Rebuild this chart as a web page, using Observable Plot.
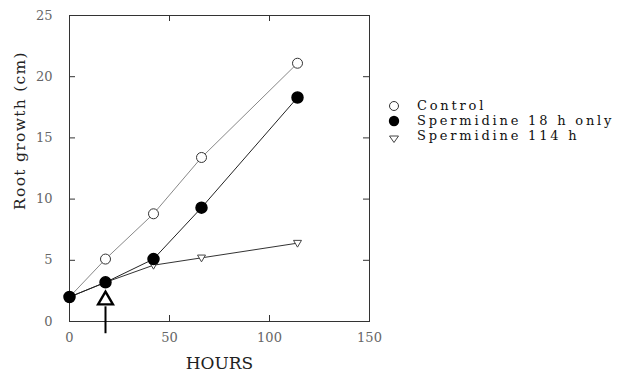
<!DOCTYPE html>
<html>
<head>
<meta charset="utf-8">
<script src="https://cdn.jsdelivr.net/npm/d3@7"></script>
<script src="https://cdn.jsdelivr.net/npm/@observablehq/plot@0.6"></script>
<style>
  html, body { margin: 0; padding: 0; background: #fff; }
  #wrap { position: relative; width: 624px; height: 374px; }
  #legend { position: absolute; left: 386px; top: 98px; font-family: "DejaVu Serif", serif; font-size: 13px; letter-spacing: 2.8px; color: #111; }
  #legend .row { display: flex; align-items: center; height: 15px; line-height: 15px; }
  #legend svg { width: 16px; height: 14px; margin-right: 15px; overflow: visible; flex: none; }
  #legend span { white-space: nowrap; }
</style>
</head>
<body>
<div id="wrap"></div>
<script>
// ---- data ----
const hours = [0, 18, 42, 66, 114];
const control = [2.0, 5.1, 8.8, 13.4, 21.1];
const sperm18 = [2.0, 3.2, 5.1, 9.3, 18.3];
const sperm114 = [2.0, 3.2, 4.6, 5.2, 6.4];
const seriesNames = ["Control", "Spermidine 18 h only", "Spermidine 114 h"];
const xTicks = [0, 50, 100, 150];
const yTicks = [0, 5, 10, 15, 20, 25];
const xInnerTicks = [50, 100];
const yInnerTicks = [5, 10, 15, 20];
const arrowHour = [18];
const arrowSpan = [-1.0, 1.2];   // shaft from/to (cm units)
const arrowHeadAt = [1.75];

const rows = (name, ys) => hours.map((h, i) => ({series: name, x: h, y: ys[i]}));
const dControl = rows(seriesNames[0], control);
const d18 = rows(seriesNames[1], sperm18);
const d114 = rows(seriesNames[2], sperm114);

const triDown = {
  draw(ctx, size) {
    const s = Math.sqrt(size);
    ctx.moveTo(-s / 2, -s * 0.35);
    ctx.lineTo(s / 2, -s * 0.35);
    ctx.lineTo(0, s * 0.5);
    ctx.closePath();
  }
};

const W = 624, H = 374;
const mL = 69, mR = 255, mT = 15, mB = 53;
const innerW = W - mL - mR, innerH = H - mT - mB;
const serif = "DejaVu Serif";
const T = 6; // inward tick length

const chart = Plot.plot({
  width: W,
  height: H,
  marginLeft: mL,
  marginRight: mR,
  marginTop: mT,
  marginBottom: mB,
  style: {fontFamily: serif, fontSize: "13px", color: "#666", background: "white"},
  x: {domain: [0, 150]},
  y: {domain: [0, 25]},
  marks: [
    // tick labels
    Plot.axisX({anchor: "bottom", ticks: xTicks, tickSize: 0, tickPadding: 11, label: null}),
    Plot.axisY({anchor: "left", ticks: yTicks, tickSize: 0, tickPadding: 17, label: null}),
    // inward ticks on all four sides
    Plot.tickX(xInnerTicks, {x: d => d, insetTop: innerH - T, stroke: "#333"}),
    Plot.tickX(xInnerTicks, {x: d => d, insetBottom: innerH - T, stroke: "#333"}),
    Plot.tickY(yInnerTicks, {y: d => d, insetRight: innerW - T, stroke: "#333"}),
    Plot.tickY(yInnerTicks, {y: d => d, insetLeft: innerW - T, stroke: "#333"}),
    Plot.frame({stroke: "#333", strokeWidth: 1}),
    Plot.text(["Root growth (cm)"], {frameAnchor: "left", textAnchor: "middle", rotate: -90, dx: -49, dy: -38, fontSize: 15.5, fill: "#222", className: "ylab"}),
    Plot.text(["HOURS"], {frameAnchor: "bottom", dy: 47, fontSize: 17, fill: "#222"}),
    Plot.line(dControl, {x: "x", y: "y", stroke: "#888", strokeWidth: 1}),
    Plot.line(d114, {x: "x", y: "y", stroke: "#333", strokeWidth: 1}),
    Plot.line(d18, {x: "x", y: "y", stroke: "#222", strokeWidth: 1}),
    Plot.dot(dControl, {x: "x", y: "y", r: 5, fill: "white", stroke: "#333", strokeWidth: 1}),
    Plot.dot(d114, {x: "x", y: "y", r: 4.5, symbol: triDown, fill: "white", stroke: "#444", strokeWidth: 1}),
    Plot.dot(d18, {x: "x", y: "y", r: 5.5, fill: "black", stroke: "black"}),
    Plot.ruleX(arrowHour, {x: d => d, y1: arrowSpan[0], y2: arrowSpan[1], stroke: "black", strokeWidth: 2, clip: false}),
    Plot.dot(arrowHour, {x: d => d, y: () => arrowHeadAt[0], symbol: "triangle", r: 5.5, fill: "white", stroke: "black", strokeWidth: 2.4, clip: false})
  ]
});

d3.select(chart).selectAll(".ylab text").attr("letter-spacing", "1.3px");

const wrap = document.getElementById("wrap");
wrap.appendChild(chart);

// legend
const legend = document.createElement("div");
legend.id = "legend";
const symbols = [
  `<svg viewBox="-8 -7 16 14"><circle r="4.5" fill="white" stroke="#333" stroke-width="1"/></svg>`,
  `<svg viewBox="-8 -7 16 14"><circle r="5.2" fill="black"/></svg>`,
  `<svg viewBox="-8 -7 16 14"><path d="M-4.5,0 L4.5,0 L0,6.5 Z" fill="white" stroke="#444" stroke-width="1"/></svg>`
];
seriesNames.forEach((name, i) => {
  const row = document.createElement("div");
  row.className = "row";
  row.innerHTML = symbols[i] + `<span>${name}</span>`;
  legend.appendChild(row);
});
wrap.appendChild(legend);
</script>
</body>
</html>
